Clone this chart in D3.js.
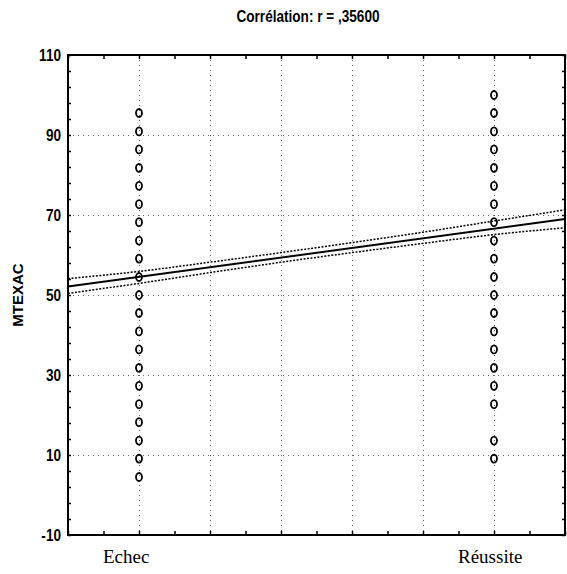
<!DOCTYPE html>
<html>
<head>
<meta charset="utf-8">
<script src="https://cdn.jsdelivr.net/npm/d3@7/dist/d3.min.js"></script>
<style>
  html, body { margin: 0; padding: 0; background: #fff; }
  svg { display: block; }
</style>
</head>
<body>
<svg id="chart" width="567" height="574"></svg>
<script>
// Group categories and their position on the x scale
const categories = ["Echec", "Réussite"];
const categoryX = [0, 1];

// MTEXAC scores per group
const echecScores = [4.5, 9.1, 13.6, 18.2, 22.7, 27.3, 31.8, 36.4, 40.9, 45.5, 50.0,
                     54.5, 59.1, 63.6, 68.2, 72.7, 77.3, 81.8, 86.4, 90.9, 95.5];
const reussiteScores = [9.1, 13.6, 22.7, 27.3, 31.8, 36.4, 40.9, 45.5, 50.0, 54.5,
                        59.1, 63.6, 68.2, 72.7, 77.3, 81.8, 86.4, 90.9, 95.5, 100.0];

// Fitted regression line and its confidence band
const fitX = [-0.2, 1.2];
const fitY = [52.1, 69.0];
const bandX = [-0.2, 0, 0.2, 0.4, 0.6, 0.8, 1.0, 1.2];
const bandUpper = [54.1, 55.9, 58.2, 60.6, 63.1, 65.7, 68.5, 71.3];
const bandLower = [50.4, 52.9, 55.6, 58.2, 60.6, 62.9, 65.1, 66.8];

// Axis ticks
const yTickLabels = [110, 90, 70, 50, 30, 10, -10];
const yGridValues = [90, 70, 50, 30, 10];
const xGridValues = [0, 0.2, 0.4, 0.6, 0.8, 1.0];

const title = "Corrélation: r = ,35600";
const yTitle = "MTEXAC";

const svg = d3.select("#chart");
const x = d3.scaleLinear().domain([-0.2, 1.2]).range([68, 565]);
const y = d3.scaleLinear().domain([-10, 110]).range([535, 55]);

// condensed bold label: Liberation Sans Bold squeezed horizontally
function narrowText(sel, px, py, str, size, anchor) {
  sel.append("g").attr("transform", `translate(${px},${py}) scale(0.8,1)`)
    .append("text")
    .attr("text-anchor", anchor)
    .attr("font-family", "'Liberation Sans', Arial, sans-serif")
    .attr("font-weight", "bold").attr("font-size", size).attr("fill", "#000")
    .text(str);
}

// dotted grid
const grid = svg.append("g").attr("stroke", "#666").attr("stroke-width", 1)
  .attr("stroke-dasharray", "1,4").attr("fill", "none");
grid.selectAll("line.h").data(yGridValues).join("line").attr("class", "h")
  .attr("x1", x.range()[0]).attr("x2", x.range()[1])
  .attr("y1", d => y(d) + 0.5).attr("y2", d => y(d) + 0.5);
grid.selectAll("line.v").data(xGridValues).join("line").attr("class", "v")
  .attr("x1", d => Math.round(x(d)) + 0.5).attr("x2", d => Math.round(x(d)) + 0.5)
  .attr("y1", y.range()[1]).attr("y2", y.range()[0]);

// axes with inward ticks on all four sides
const yMinor = d3.range(-10, 110.1, 4);
const xMinor = d3.range(-0.2, 1.201, 0.1);
svg.append("g").attr("transform", `translate(${x.range()[0]},0)`)
  .call(d3.axisRight(y).tickValues(yMinor).tickSize(3).tickFormat("").tickSizeOuter(0));
svg.append("g").attr("transform", `translate(${x.range()[1]},0)`)
  .call(d3.axisLeft(y).tickValues(yMinor).tickSize(3).tickFormat("").tickSizeOuter(0));
svg.append("g").attr("transform", `translate(0,${y.range()[0]})`)
  .call(d3.axisTop(x).tickValues(xMinor).tickSize(4).tickFormat("").tickSizeOuter(0));
svg.append("g").attr("transform", `translate(0,${y.range()[1]})`)
  .call(d3.axisBottom(x).tickValues(xMinor).tickSize(4).tickFormat("").tickSizeOuter(0));
svg.selectAll(".domain").remove();
svg.selectAll(".tick line").attr("stroke", "#000").attr("stroke-width", 1.5);

// frame
svg.append("rect")
  .attr("x", x.range()[0]).attr("y", y.range()[1])
  .attr("width", x.range()[1] - x.range()[0]).attr("height", y.range()[0] - y.range()[1])
  .attr("fill", "none").attr("stroke", "#000").attr("stroke-width", 2);

// y tick labels
const yLabels = svg.append("g");
yTickLabels.forEach(v => narrowText(yLabels, x.range()[0] - 7, y(v) + 6, v, 17, "end"));

// category labels
svg.append("g").selectAll("text").data(categories).join("text")
  .attr("x", (d, i) => x(categoryX[i]) - 36).attr("y", 563)
  .attr("font-family", "'Liberation Serif', 'Times New Roman', serif")
  .attr("font-size", 19).attr("fill", "#000")
  .text(d => d);

// title and y axis title
narrowText(svg, 308, 22, title, 17, "middle");
svg.append("text")
  .attr("transform", `translate(23,${(y.range()[0] + y.range()[1]) / 2}) rotate(-90)`)
  .attr("text-anchor", "middle")
  .attr("font-family", "'Liberation Sans', Arial, sans-serif").attr("font-weight", "bold")
  .attr("font-size", 15).text(yTitle);

// confidence band and regression line
const bandLine = d3.line().x(d => x(d[0])).y(d => y(d[1])).curve(d3.curveMonotoneX);
svg.append("path").datum(bandX.map((v, i) => [v, bandUpper[i]]))
  .attr("d", bandLine).attr("fill", "none").attr("stroke", "#000")
  .attr("stroke-width", 1.5).attr("stroke-dasharray", "2,1.5");
svg.append("path").datum(bandX.map((v, i) => [v, bandLower[i]]))
  .attr("d", bandLine).attr("fill", "none").attr("stroke", "#000")
  .attr("stroke-width", 1.5).attr("stroke-dasharray", "2,1.5");
svg.append("path").datum(fitX.map((v, i) => [v, fitY[i]]))
  .attr("d", d3.line().x(d => x(d[0])).y(d => y(d[1])))
  .attr("fill", "none").attr("stroke", "#000").attr("stroke-width", 2);

// scatter points
const points = [
  ...echecScores.map(v => ({ cx: categoryX[0], v })),
  ...reussiteScores.map(v => ({ cx: categoryX[1], v }))
];
svg.append("g").selectAll("ellipse").data(points).join("ellipse")
  .attr("cx", d => x(d.cx)).attr("cy", d => y(d.v))
  .attr("rx", 3).attr("ry", 4)
  .attr("fill", "none").attr("stroke", "#000").attr("stroke-width", 1.8);
</script>
</body>
</html>
